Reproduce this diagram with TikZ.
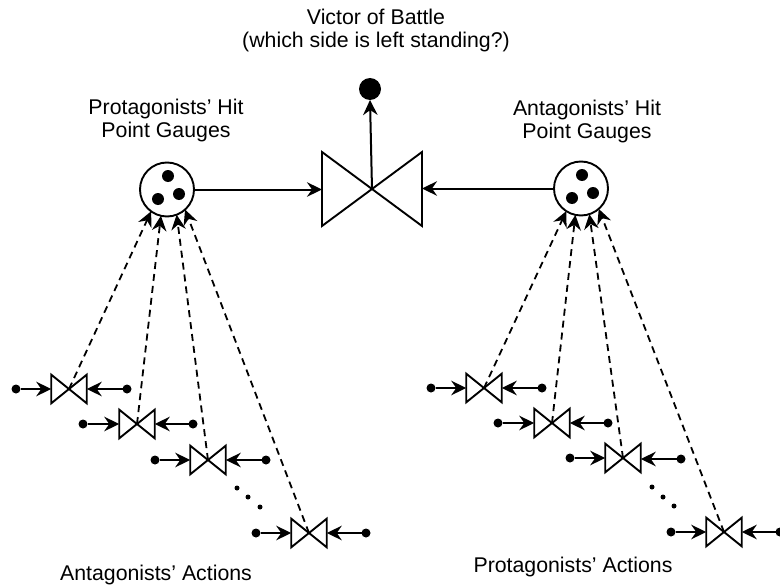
\documentclass[tikz,border=0pt]{standalone}
\usepackage{fontspec}
\setmainfont{Liberation Sans}
\usetikzlibrary{arrows.meta}
\tikzset{
  wire/.style={line width=2pt,-{Stealth[length=15pt,width=14.5pt,inset=5pt]}},
  influence/.style={wire,line width=1.8pt,dash pattern=on 7pt off 5pt},
  valveline/.style={line width=1.9pt,line join=miter,black},
  valvebig/.style={inner sep=0pt,outer sep=0pt,minimum width=100pt,minimum height=74pt},
  valvesmall/.style={inner sep=0pt,outer sep=0pt,minimum width=35.5pt,minimum height=28.6pt},
  gauge/.style={circle,draw,line width=1.9pt,fill=white,inner sep=0pt,outer sep=0pt,minimum size=54pt},
  token/.style={circle,fill=black,inner sep=0pt,outer sep=0pt,minimum size=12pt},
  pool/.style={circle,fill=black,inner sep=0pt,outer sep=0pt,minimum size=9pt},
  more/.style={circle,fill=black,inner sep=0pt,outer sep=0pt,minimum size=5pt},
  result/.style={circle,fill=black,inner sep=0pt,outer sep=0pt,minimum size=22pt},
  caption/.style={align=center,font=\fontsize{21.3}{23.7}\selectfont,inner sep=0pt}
}
\newcommand{\valve}[3]{%
  \node[#1] (#2) at (#3) {};
  \draw[valveline] (#2.north west) -- (#2.south east) -- (#2.north east) -- (#2.south west) -- cycle;
}
\newcommand{\action}[7]{%
  \node[pool] (#1a) at (#3,#2) {};
  \node[pool] (#1b) at (#5,#6) {};
  \valve{valvesmall}{#1}{#4,#2}
  \draw[wire] (#1a) -- (#1.west);
  \draw[wire] (#1b) -- (#1.east |- #1b);
  \draw[influence] (#1.center) -- (#7);
}
\begin{document}
\begin{tikzpicture}[x=1pt,y=-1pt]
\useasboundingbox (0,0) rectangle (780,586);
\valve{valvebig}{victor}{372,189}
\node[result] (winner) at (370,89) {};
\node[gauge] (pg) at (167,189.5) {};
\node[token] (pg1) at (168,176) {};
\node[token] (pg2) at (179,194) {};
\node[token] (pg3) at (158,199) {};
\node[gauge] (ag) at (581,188.5) {};
\node[token] (ag1) at (582,175) {};
\node[token] (ag2) at (593,193) {};
\node[token] (ag3) at (572,198) {};
\draw[wire] (victor.center) -- (winner.south);
\draw[wire] (pg.east) -- (victor.west |- pg.east);
\draw[wire] (ag.west) -- (victor.east |- ag.west);
\action{la}{389}{16}{69}{127}{389}{pg.234}
\action{lb}{424}{83}{137}{193}{424}{pg.257}
\action{lc}{460}{155}{208}{266}{460}{pg.291}
\action{ld}{533}{256}{309}{366}{533}{pg.312}
\node[more] (lm1) at (237,488) {};
\node[more] (lm2) at (248,497) {};
\node[more] (lm3) at (260,507) {};
\action{ra}{388}{431}{484}{542}{388}{ag.237}
\action{rb}{423}{498}{552}{608}{423}{ag.258}
\action{rc}{458}{570}{623}{681}{459}{ag.288}
\action{rd}{532}{671}{724}{780}{532}{ag.311}
\node[more] (rm1) at (652,487) {};
\node[more] (rm2) at (663,497) {};
\node[more] (rm3) at (674,506) {};
\node[caption] (t1) at (376,30.5) {Victor of Battle\\(which side is left standing?)};
\node[caption] (t2) at (166,120.5) {Protagonists’ Hit\\Point Gauges};
\node[caption] (t3) at (587,121.5) {Antagonists’ Hit\\Point Gauges};
\node[caption] (t4) at (156,574.5) {Antagonists’ Actions};
\node[caption] (t5) at (573,567) {Protagonists’ Actions};
\end{tikzpicture}
\end{document}
